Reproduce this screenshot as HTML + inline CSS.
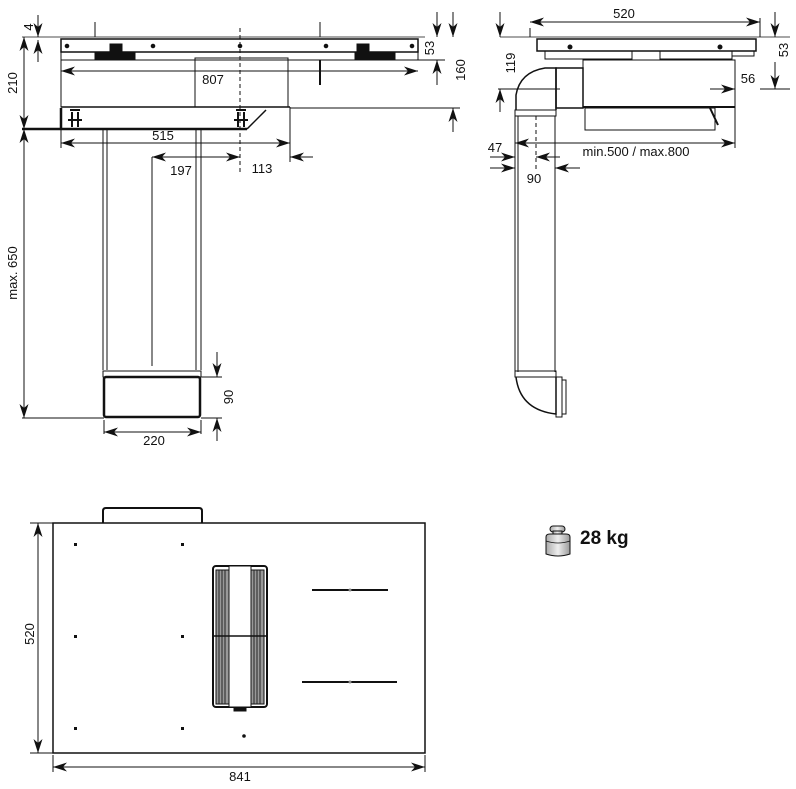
<!DOCTYPE html>
<html><head><meta charset="utf-8"><style>
html,body{margin:0;padding:0;background:#fff}
svg{display:block}
text{font-family:"Liberation Sans",sans-serif;font-size:13px;fill:#111;stroke:none;font-weight:normal}
</style></head><body>
<svg width="796" height="789" viewBox="0 0 796 789" xmlns="http://www.w3.org/2000/svg">
<defs>
<marker id="a" viewBox="0 0 14 9" refX="14" refY="4.5" markerWidth="14" markerHeight="9" markerUnits="userSpaceOnUse" orient="auto-start-reverse">
<path d="M0,0 L14,4.5 L0,9 L4,4.5 Z" fill="#111" stroke="none"/></marker>
<linearGradient id="g" x1="0" x2="1"><stop offset="0" stop-color="#aaa"/><stop offset="0.5" stop-color="#eee"/><stop offset="1" stop-color="#999"/></linearGradient>
</defs>
<g stroke="#111" fill="none" stroke-width="1">
<!-- ============ LEFT FRONT VIEW ============ -->
<line x1="22" y1="37" x2="425" y2="37" stroke-width="0.8"/>
<rect x="61" y="39" width="357" height="13" stroke-width="1.5"/>
<rect x="61" y="52" width="357" height="8"/>
<rect x="95" y="53" width="40" height="7" fill="#111"/>
<rect x="110" y="44" width="12" height="9" fill="#111"/>
<rect x="355" y="53" width="40" height="7" fill="#111"/>
<rect x="357" y="44" width="12" height="9" fill="#111"/>
<circle cx="67" cy="46" r="1.8" fill="#111"/><circle cx="153" cy="46" r="1.8" fill="#111"/>
<circle cx="240" cy="46" r="1.8" fill="#111"/><circle cx="326" cy="46" r="1.8" fill="#111"/><circle cx="412" cy="46" r="1.8" fill="#111"/>
<line x1="95" y1="22" x2="95" y2="37"/><line x1="320" y1="22" x2="320" y2="37"/>
<rect x="61" y="60" width="134" height="47"/>
<rect x="195" y="58" width="93" height="49"/>
<line x1="61" y1="107" x2="290" y2="107" stroke-width="1.5"/>
<line x1="320" y1="60" x2="320" y2="85" stroke-width="2"/>
<path d="M61,108 L61,128 M22,129 L247,129" stroke-width="2.5"/>
<line x1="247" y1="129" x2="266" y2="110" stroke-width="1.5"/>
<path d="M70,110 L80,110 M72,112 V127 M78,112 V127 M68,120 H82" stroke-width="2"/>
<path d="M236,110 L246,110 M238,112 V127 M244,112 V127 M234,120 H248" stroke-width="2"/>
<line x1="240" y1="28" x2="240" y2="175" stroke-dasharray="4,3"/>
<!-- dims -->
<line x1="38" y1="15" x2="38" y2="37" marker-end="url(#a)"/>
<line x1="38" y1="62" x2="38" y2="40" marker-end="url(#a)"/>
<text transform="translate(33,27) rotate(-90)" text-anchor="middle">4</text>
<line x1="24" y1="37" x2="24" y2="129" marker-start="url(#a)" marker-end="url(#a)"/>
<text transform="translate(17,83) rotate(-90)" text-anchor="middle">210</text>
<line x1="61" y1="71" x2="418" y2="71" marker-start="url(#a)" marker-end="url(#a)"/>
<text x="213" y="84" text-anchor="middle">807</text>
<line x1="418" y1="60" x2="445" y2="60"/>
<line x1="437" y1="12" x2="437" y2="37" marker-end="url(#a)"/>
<line x1="437" y1="85" x2="437" y2="60" marker-end="url(#a)"/>
<text transform="translate(434,48) rotate(-90)" text-anchor="middle">53</text>
<line x1="290" y1="108" x2="460" y2="108"/>
<line x1="453" y1="12" x2="453" y2="37" marker-end="url(#a)"/>
<line x1="453" y1="132" x2="453" y2="108" marker-end="url(#a)"/>
<text transform="translate(465,70) rotate(-90)" text-anchor="middle">160</text>
<line x1="61" y1="130" x2="61" y2="148"/><line x1="290" y1="107" x2="290" y2="162"/>
<line x1="61" y1="143" x2="290" y2="143" marker-start="url(#a)" marker-end="url(#a)"/>
<text x="163" y="140" text-anchor="middle">515</text>
<line x1="152" y1="157" x2="240" y2="157" marker-start="url(#a)" marker-end="url(#a)"/>
<text x="181" y="175" text-anchor="middle">197</text>
<line x1="313" y1="157" x2="290" y2="157" marker-end="url(#a)"/>
<text x="262" y="173" text-anchor="middle">113</text>
<!-- column -->
<line x1="103" y1="130" x2="103" y2="370"/><line x1="107" y1="130" x2="107" y2="370"/>
<line x1="196" y1="130" x2="196" y2="370"/><line x1="201" y1="130" x2="201" y2="370"/>
<line x1="152" y1="157" x2="152" y2="366"/>
<rect x="103" y="371" width="98" height="6"/>
<rect x="104" y="377" width="96" height="40" rx="2" stroke-width="2.5"/>
<line x1="22" y1="418" x2="104" y2="418"/>
<line x1="24" y1="129" x2="24" y2="418" marker-start="url(#a)" marker-end="url(#a)"/>
<text transform="translate(17,273) rotate(-90)" text-anchor="middle">max. 650</text>
<line x1="201" y1="377" x2="222" y2="377"/><line x1="201" y1="418" x2="222" y2="418"/>
<line x1="217" y1="352" x2="217" y2="377" marker-end="url(#a)"/>
<line x1="217" y1="441" x2="217" y2="418" marker-end="url(#a)"/>
<text transform="translate(233,397) rotate(-90)" text-anchor="middle">90</text>
<line x1="104" y1="420" x2="104" y2="434"/><line x1="201" y1="420" x2="201" y2="434"/>
<line x1="104" y1="432" x2="201" y2="432" marker-start="url(#a)" marker-end="url(#a)"/>
<text x="154" y="445" text-anchor="middle">220</text>

<!-- ============ RIGHT SIDE VIEW ============ -->
<line x1="500" y1="37" x2="790" y2="37" stroke-width="0.8"/>
<rect x="537" y="39" width="219" height="12" stroke-width="1.5"/>
<rect x="545" y="51" width="87" height="8"/><rect x="660" y="51" width="72" height="8"/>
<rect x="732" y="51" width="22" height="5"/>
<circle cx="570" cy="47" r="2" fill="#111"/><circle cx="720" cy="47" r="2" fill="#111"/>
<line x1="530" y1="37" x2="530" y2="28"/><line x1="760" y1="37" x2="760" y2="18"/>
<line x1="530" y1="22" x2="760" y2="22" marker-start="url(#a)" marker-end="url(#a)"/>
<text x="624" y="18" text-anchor="middle">520</text>
<rect x="583" y="60" width="152" height="47"/>
<rect x="556" y="68" width="27" height="40" stroke-width="1.5"/>
<path d="M516,110 L516,95 Q520,72 545,68 L556,68 L556,110" stroke-width="1.5"/>
<line x1="583" y1="107" x2="735" y2="107" stroke-width="2"/>
<rect x="585" y="108" width="130" height="22"/>
<path d="M710,108 L718,125" stroke-width="2"/>
<line x1="735" y1="107" x2="735" y2="148"/>
<line x1="498" y1="89" x2="560" y2="89"/>
<line x1="500" y1="12" x2="500" y2="37" marker-end="url(#a)"/>
<line x1="500" y1="112" x2="500" y2="89" marker-end="url(#a)"/>
<text transform="translate(515,63) rotate(-90)" text-anchor="middle">119</text>
<line x1="760" y1="89" x2="790" y2="89"/>
<line x1="775" y1="12" x2="775" y2="37" marker-end="url(#a)"/>
<line x1="775" y1="89" x2="775" y2="62" marker-start="url(#a)"/>
<text transform="translate(788,50) rotate(-90)" text-anchor="middle">53</text>
<line x1="710" y1="89" x2="735" y2="89" marker-end="url(#a)"/>
<line x1="785" y1="89" x2="760" y2="89"/>
<text x="748" y="83" text-anchor="middle">56</text>
<line x1="515" y1="143" x2="735" y2="143" marker-start="url(#a)" marker-end="url(#a)"/>
<text x="636" y="156" text-anchor="middle">min.500 / max.800</text>
<!-- column -->
<rect x="515" y="110" width="41" height="6"/>
<line x1="515" y1="116" x2="515" y2="372"/><line x1="518" y1="116" x2="518" y2="372"/>
<line x1="555" y1="116" x2="555" y2="372"/>
<line x1="536" y1="116" x2="536" y2="170" stroke-dasharray="4,3"/>
<line x1="490" y1="157" x2="515" y2="157" marker-end="url(#a)"/>
<line x1="560" y1="157" x2="536" y2="157" marker-end="url(#a)"/>
<text x="495" y="152" text-anchor="middle">47</text>
<line x1="490" y1="168" x2="515" y2="168" marker-end="url(#a)"/>
<line x1="580" y1="168" x2="555" y2="168" marker-end="url(#a)"/>
<text x="534" y="183" text-anchor="middle">90</text>
<rect x="515" y="371" width="41" height="6"/>
<path d="M516,377 Q520,410 556,414 L556,377" stroke-width="1.5"/>
<rect x="556" y="377" width="6" height="40"/><rect x="562" y="380" width="4" height="34"/>

<!-- ============ PLAN VIEW ============ -->
<path d="M103,523 L103,511 Q103,508 106,508 L199,508 Q202,508 202,511 L202,523" stroke-width="2"/>
<rect x="53" y="523" width="372" height="230" stroke-width="1.5"/>
<rect x="213" y="566" width="54" height="141" rx="3" stroke-width="2"/>
<rect x="216" y="570" width="13" height="134" fill="#999" stroke="#111"/>
<rect x="251" y="570" width="13" height="134" fill="#999" stroke="#111"/>
<path d="M219,570 V704 M222,570 V704 M225,570 V704 M254,570 V704 M257,570 V704 M260,570 V704" stroke="#222"/>
<rect x="229" y="566" width="22" height="141" fill="#fff"/>
<line x1="213" y1="636" x2="267" y2="636" stroke-width="1.5"/>
<rect x="234" y="708" width="12" height="3" fill="#111"/>
<line x1="312" y1="590" x2="388" y2="590" stroke-width="2"/>
<line x1="302" y1="682" x2="397" y2="682" stroke-width="2"/>
<g fill="#111" stroke="none">
<circle cx="350" cy="590" r="1.5" fill="#888"/><circle cx="350" cy="682" r="1.5" fill="#888"/>
<rect x="74" y="543" width="3" height="3"/><rect x="181" y="543" width="3" height="3"/>
<rect x="74" y="635" width="3" height="3"/><rect x="181" y="635" width="3" height="3"/>
<rect x="74" y="727" width="3" height="3"/><rect x="181" y="727" width="3" height="3"/>
<circle cx="244" cy="736" r="1.8"/>
</g>
<line x1="30" y1="523" x2="53" y2="523"/><line x1="30" y1="753" x2="53" y2="753"/>
<line x1="38" y1="523" x2="38" y2="753" marker-start="url(#a)" marker-end="url(#a)"/>
<text transform="translate(34,634) rotate(-90)" text-anchor="middle">520</text>
<line x1="53" y1="755" x2="53" y2="772"/><line x1="425" y1="755" x2="425" y2="772"/>
<line x1="53" y1="767" x2="425" y2="767" marker-start="url(#a)" marker-end="url(#a)"/>
<text x="240" y="781" text-anchor="middle">841</text>

<!-- weight -->
<rect x="550" y="526" width="15" height="6" rx="3" fill="url(#g)"/>
<rect x="553" y="531" width="9" height="4" fill="url(#g)"/>
<path d="M546,537 Q546,534 550,534 L566,534 Q570,534 570,537 L570,554 Q558,558 546,554 Z" fill="url(#g)"/>
<path d="M546,541 Q558,545 570,541" stroke-width="0.8"/>
</g>
<text x="580" y="544" style="font-size:19px;font-weight:bold">28 kg</text>
</svg>
</body></html>
